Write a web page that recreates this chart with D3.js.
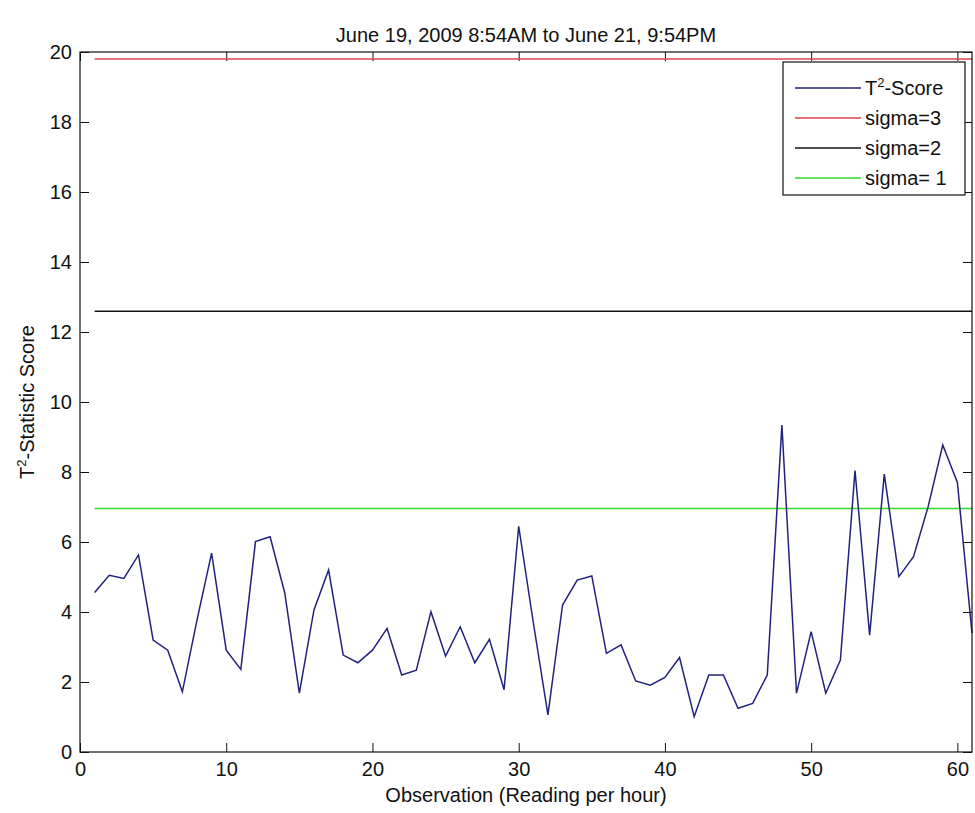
<!DOCTYPE html>
<html>
<head>
<meta charset="utf-8">
<script src="https://cdn.jsdelivr.net/npm/d3@7"></script>
<style>
  html, body { margin: 0; padding: 0; background: #fff; }
  svg text { font-family: "Liberation Sans", Arial, sans-serif; fill: #111; }
</style>
</head>
<body>
<svg id="chart" width="975" height="813"></svg>
<script>
// Hourly T² statistic scores, observations 1..61
const scores = [
  4.56, 5.05, 4.96, 5.63, 3.20, 2.91, 1.72, 3.77, 5.68, 2.91,
  2.36, 6.01, 6.15, 4.55, 1.68, 4.06, 5.20, 2.77, 2.55, 2.91,
  3.53, 2.20, 2.34, 4.01, 2.74, 3.58, 2.55, 3.22, 1.78, 6.45,
  3.70, 1.06, 4.20, 4.91, 5.03, 2.82, 3.06, 2.03, 1.91, 2.13,
  2.70, 1.01, 2.20, 2.20, 1.25, 1.39, 2.20, 9.34, 1.68, 3.44,
  1.68, 2.63, 8.04, 3.34, 7.94, 5.01, 5.58, 7.01, 8.77, 7.70,
  3.40
];

// Control limits
const limitNames = ["sigma=3", "sigma=2", "sigma= 1"];
const limitValues = [19.8, 12.59, 6.96];
const limitColors = ["#e2434f", "#111111", "#2fdc2f"];

const scoreColor = "#22227e";
const xTicks = [0, 10, 20, 30, 40, 50, 60];
const yTicks = [0, 2, 4, 6, 8, 10, 12, 14, 16, 18, 20];

const titleText = "June 19, 2009 8:54AM to June 21, 9:54PM";
const xLabel = "Observation (Reading per hour)";

const margin = { left: 80, right: 3, top: 52, bottom: 61 };
const W = 975, H = 813;
const svg = d3.select("#chart");

const x = d3.scaleLinear().domain([0, 61]).range([margin.left, W - margin.right]);
const y = d3.scaleLinear().domain([0, 20]).range([H - margin.bottom, margin.top]);

const x0 = x.range()[0], x1 = x.range()[1];
const y0 = y.range()[0], y1 = y.range()[1];

// Axes with inward ticks on all four sides
const tickLen = 9;
const axisFont = 20;

const bottomAxis = d3.axisBottom(x).tickValues(xTicks).tickSize(-tickLen).tickPadding(10);
const topAxis = d3.axisTop(x).tickValues(xTicks).tickSize(-tickLen).tickFormat("");
const leftAxis = d3.axisLeft(y).tickValues(yTicks).tickSize(-tickLen).tickPadding(8);
const rightAxis = d3.axisRight(y).tickValues(yTicks).tickSize(-tickLen).tickFormat("");

function styleAxis(g) {
  g.select(".domain").remove();
  g.selectAll(".tick line").attr("stroke", "#111").attr("stroke-width", 1);
  g.selectAll(".tick text").attr("font-size", axisFont).attr("fill", "#111")
    .attr("font-family", "Liberation Sans, Arial, sans-serif");
}

svg.append("g").attr("transform", `translate(0,${y0})`).call(bottomAxis).call(styleAxis);
svg.append("g").attr("transform", `translate(0,${y1})`).call(topAxis).call(styleAxis);
svg.append("g").attr("transform", `translate(${x0},0)`).call(leftAxis).call(styleAxis);
svg.append("g").attr("transform", `translate(${x1},0)`).call(rightAxis).call(styleAxis);

// Control limit lines across the observation range
const obsFirst = 1, obsLast = scores.length;
limitValues.forEach((v, i) => {
  svg.append("line")
    .attr("x1", x(obsFirst)).attr("x2", x(obsLast))
    .attr("y1", y(v)).attr("y2", y(v))
    .attr("stroke", limitColors[i]).attr("stroke-width", 1.5);
});

// T² score series
const line = d3.line().x((d, i) => x(i + 1)).y(d => y(d));
svg.append("path")
  .datum(scores)
  .attr("d", line)
  .attr("fill", "none")
  .attr("stroke", scoreColor)
  .attr("stroke-width", 1.5)
  .attr("stroke-linejoin", "miter");

// Plot frame
svg.append("rect")
  .attr("x", x0).attr("y", y1)
  .attr("width", x1 - x0).attr("height", y0 - y1)
  .attr("fill", "none").attr("stroke", "#111").attr("stroke-width", 1.2);

// Title and axis labels
svg.append("text")
  .attr("x", (x0 + x1) / 2).attr("y", 42)
  .attr("text-anchor", "middle").attr("font-size", 20)
  .text(titleText);

svg.append("text")
  .attr("x", (x0 + x1) / 2).attr("y", 802)
  .attr("text-anchor", "middle").attr("font-size", 20)
  .text(xLabel);

const yl = svg.append("text")
  .attr("transform", `translate(34,${(y0 + y1) / 2}) rotate(-90)`)
  .attr("text-anchor", "middle").attr("font-size", 20);
yl.append("tspan").text("T");
yl.append("tspan").attr("font-size", 13).attr("dy", -8).text("2");
yl.append("tspan").attr("dy", 8).text("-Statistic Score");

// Legend
const lg = { x: 783, y: 62, w: 182, h: 133 };
const legend = svg.append("g");
legend.append("rect")
  .attr("x", lg.x).attr("y", lg.y).attr("width", lg.w).attr("height", lg.h)
  .attr("fill", "#fff").attr("stroke", "#111").attr("stroke-width", 1.2);

const legendItems = [{ name: "T2", color: scoreColor }]
  .concat(limitNames.map((n, i) => ({ name: n, color: limitColors[i] })));
const rowY = [88, 118, 148, 178];
legendItems.forEach((d, i) => {
  legend.append("line")
    .attr("x1", lg.x + 12).attr("x2", lg.x + 78)
    .attr("y1", rowY[i]).attr("y2", rowY[i])
    .attr("stroke", d.color).attr("stroke-width", 1.5);
  const t = legend.append("text")
    .attr("x", lg.x + 82).attr("y", rowY[i] + 7)
    .attr("font-size", 20);
  if (i === 0) {
    t.append("tspan").text("T");
    t.append("tspan").attr("font-size", 13).attr("dy", -8).text("2");
    t.append("tspan").attr("dy", 8).text("-Score");
  } else {
    t.text(d.name);
  }
});
</script>
</body>
</html>
